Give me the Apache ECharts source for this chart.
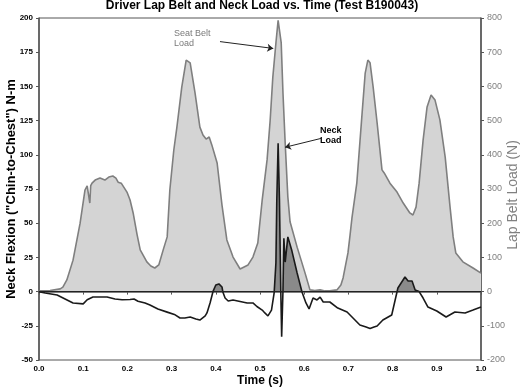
<!DOCTYPE html>
<html>
<head>
<meta charset="UTF-8">
<title>Driver Lap Belt and Neck Load vs. Time</title>
<script src="https://cdn.jsdelivr.net/npm/echarts@6/dist/echarts.min.js"></script>
<style>
  html, body{ margin:0; padding:0; background:#fff; }
  #chart{ width:524px; height:391px; }
</style>
</head>
<body>
<div id="chart"></div>
<script>
// seat (lap) belt load, N, right axis
var beltTime = [0, .025, .048, .054, .063, .077, .093, .104, .109, .113, .115, .117, .12, .127, .138, .149, .158, .167, .174, .179, .186, .19,
  .199, .206, .213, .222, .229, .244, .253, .262, .271, .281, .29, .296, .305, .312, .323, .333, .337, .342, .353, .364, .371, .378, .385, .391, .403,
  .414, .425, .439, .455, .464, .473, .484, .495, .505, .516, .523, .529, .536, .541, .548, .552, .557, .563, .568, .584, .593, .602, .613,
  .624, .636, .647, .658, .674, .683, .688, .699, .704, .708, .719, .731, .738, .744, .749, .756, .765, .776, .781, .794, .81, .824, .839, .846,
  .853, .86, .869, .878, .887, .896, .907, .919, .93, .937, .943, .959, .982, 1.0];
var beltLoad = [2, 3, 8, 13, 34, 92, 200, 297, 309, 312, 259, 310, 317, 326, 332, 326, 335, 338, 332, 320, 317, 309,
  291, 268, 230, 166, 122, 87, 75, 69, 78, 122, 160, 297, 414, 481, 598, 677, 680, 669, 581, 481, 458, 446, 452, 429, 376,
  253, 151, 101, 66, 72, 78, 101, 142, 268, 385, 501, 627, 727, 793, 727, 580, 434, 277, 204, 130, 92, 54, 5,
  3, 5, 2, 2, 5, 19, 40, 113, 168, 215, 317, 522, 639, 677, 669, 598, 493, 356, 347, 317, 291, 259, 230, 224,
  247, 317, 443, 540, 575, 560, 502, 393, 247, 160, 113, 87, 69, 54];

// neck flexion moment, N-m, left axis
var neckTime = [0, .014, .041, .059, .077, .1, .109, .122, .138, .154, .172, .188, .206, .215, .224, .24, .251, .269, .29, .308, .319, .33,
  .342, .355, .364, .376, .38, .387, .394, .4, .407, .414, .416, .421, .428, .439, .455, .471, .484, .493, .505, .511, .518, .526,
  .532, .536, .538, .541, .544, .547, .549, .552, .554, .557, .563, .572, .584, .595, .604, .611, .62, .629, .636, .643, .658, .676,
  .697, .726, .74, .749, .753, .758, .765, .778, .798, .812, .828, .835, .844, .851, .86, .869, .88, .9, .921, .941, .964, .982, 1.0];
var neckLoad = [0, -1, -2.5, -5.4, -8.3, -9, -6, -4, -4, -4, -5.4, -6, -5.8, -5.4, -7, -8.3, -9.8, -12.7, -15, -17, -19.3, -19.3,
  -18.6, -20, -20.8, -17.8, -15.6, -8.3, 0.4, 4.8, 5.6, 3.4, -0.3, -4.7, -6.9, -6.1, -7.2, -8.3, -8.3, -10.9, -13.5, -15.6, -17.8, -13.5,
  -1, 21, 67, 108.5, 67, 1, -33, 1, 39, 21.6, 40, 30, 13.6, -0.3, -8.3, -12.7, -4.7, -6.1, -4, -7.6, -7.6, -12,
  -14.9, -24.4, -25.9, -27, -28, -25.9, -25.1, -20.8, -17.1, 2.6, 10.7, 7.7, 7.7, 1.2, 0, -4.7, -11.3, -14.2, -18.6, -14.9, -15.6, -13.5, -11.3];

function pairs(t, v){
  var out = [];
  for(var i=0;i<t.length;i++){ out.push([t[i], v[i]]); }
  return out;
}

var FONT = '"Liberation Sans", Arial, sans-serif';
var chart = echarts.init(document.getElementById('chart'), null, {renderer:'canvas'});

var option = {
  animation: false,
  title: {
    text: 'Driver Lap Belt and Neck Load vs. Time (Test B190043)',
    left: 'center', top: 0, padding: [0,0,0,0],
    textStyle: { fontFamily: FONT, fontSize: 12, fontWeight: 'bold', color: '#000' }
  },
  grid: [
    { left: 39, right: 43, top: 18, bottom: 31, show: true, borderColor: '#555', borderWidth: 1,
      containLabel: false, outerBoundsMode: 'none' },
    { left: 39, right: 43, top: 18, height: 273.6, containLabel: false, outerBoundsMode: 'none' }
  ],
  xAxis: [{
    type: 'value', min: 0, max: 1, interval: 0.1, gridIndex: 0,
    name: 'Time (s)', nameLocation: 'middle', nameGap: 15, nameMoveOverlap: false,
    nameTextStyle: { fontFamily: FONT, fontSize: 12, fontWeight: 'bold', color: '#000' },
    axisLine: { lineStyle: { color: '#555', width: 1.5 } },
    axisTick: { length: 3, lineStyle: { color: '#555' } },
    splitLine: { show: false },
    axisLabel: { margin: 5, fontFamily: FONT, fontSize: 8, fontWeight: 'bold', color: '#000',
      formatter: function(v){ return v.toFixed(1); } }
  }, {
    type: 'value', min: 0, max: 1, gridIndex: 1, show: false
  }],
  yAxis: [{
    type: 'value', min: -50, max: 200, interval: 25, gridIndex: 0, position: 'left',
    name: 'Neck Flexion ("Chin-to-Chest") N-m', nameLocation: 'middle', nameGap: 21, nameMoveOverlap: false,
    nameTextStyle: { fontFamily: FONT, fontSize: 13, fontWeight: 'bold', color: '#000' },
    axisLine: { show: true, lineStyle: { color: '#555', width: 1.5 } },
    axisTick: { show: true, length: 3, lineStyle: { color: '#555' } },
    splitLine: { show: false },
    axisLabel: { margin: 6, fontFamily: FONT, fontSize: 8, fontWeight: 'bold', color: '#000' }
  }, {
    type: 'value', min: -200, max: 800, interval: 100, gridIndex: 0, position: 'right',
    name: 'Lap Belt Load (N)', nameLocation: 'middle', nameGap: 25, nameMoveOverlap: false,
    nameTextStyle: { fontFamily: FONT, fontSize: 14, color: '#808080', padding: [0,12,0,0] },
    axisLine: { show: true, lineStyle: { color: '#555', width: 1.5 } },
    axisTick: { show: true, length: 3, lineStyle: { color: '#555' } },
    splitLine: { show: false },
    axisLabel: { margin: 6, fontFamily: FONT, fontSize: 9, color: '#808080' }
  }, {
    type: 'value', min: 0, max: 200, gridIndex: 1, show: false
  }],
  graphic: [
    { type: 'text', left: 174, top: 29, style: { text: 'Seat Belt\nLoad', fill: '#7a7a7a', font: '9px ' + FONT, lineHeight: 10 } },
    { type: 'text', left: 320, top: 126, style: { text: 'Neck\nLoad', fill: '#000', font: 'bold 9px ' + FONT, lineHeight: 10 } }
  ],
  series: [{
    name: 'Seat Belt Load', type: 'line', xAxisIndex: 0, yAxisIndex: 1,
    data: pairs(beltTime, beltLoad), symbol: 'none', smooth: false,
    lineStyle: { color: '#7f7f7f', width: 1.6 },
    areaStyle: { color: '#d4d4d4', opacity: 1 },
    markLine: {
      silent: true, symbol: ['none', 'arrow'], symbolSize: 6,
      label: { show: false },
      lineStyle: { color: '#222', width: 1, type: 'solid' },
      data: [[{ coord: [0.4095, 731] }, { coord: [0.530, 711] }]]
    }
  }, {
    name: 'Neck Fill', type: 'line', xAxisIndex: 1, yAxisIndex: 2,
    data: pairs(neckTime, neckLoad), symbol: 'none', clip: true,
    lineStyle: { width: 0 },
    areaStyle: { color: '#8a8a8a', opacity: 1 }
  }, {
    name: 'Neck Load', type: 'line', xAxisIndex: 0, yAxisIndex: 0,
    data: pairs(neckTime, neckLoad), symbol: 'none',
    lineStyle: { color: '#1a1a1a', width: 1.6 },
    markLine: {
      silent: true, symbol: ['none', 'none'],
      label: { show: false },
      lineStyle: { color: '#222', width: 1, type: 'solid' },
      data: [
        { yAxis: 0 },
        [{ coord: [0.6396, 112.1], symbol: 'none' }, { coord: [0.5566, 105.5], symbol: 'arrow', symbolSize: 6 }]
      ]
    }
  }]
};
chart.setOption(option);
</script>
</body>
</html>
